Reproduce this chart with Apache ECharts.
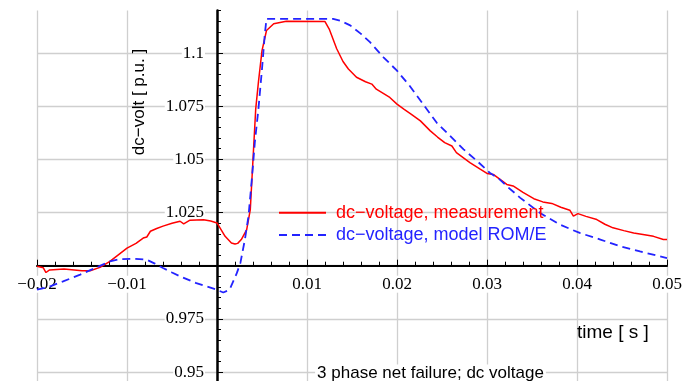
<!DOCTYPE html>
<html>
<head>
<meta charset="utf-8">
<script src="https://cdn.jsdelivr.net/npm/echarts@6.0.0/dist/echarts.min.js"></script>
<style>
  html, body { margin: 0; padding: 0; background: #fff; }
  #chart { width: 697px; height: 381px; }
</style>
</head>
<body>
<div id="chart"></div>
<script>
// measured dc voltage (red, solid)
const tMeas = [
  -0.0200, -0.0193, -0.0190, -0.0186, -0.0170, -0.0168, -0.0150, -0.0141, -0.0130, -0.0119,
  -0.0110, -0.0100, -0.0090, -0.0082, -0.0078, -0.0074, -0.0067, -0.0060, -0.0050, -0.0041,
  -0.0037, -0.0030, -0.0015, -0.0007, 0.0000, 0.0009, 0.0016, 0.0020, 0.0023, 0.0027,
  0.0033, 0.0037, 0.0040, 0.0043, 0.0046, 0.0050, 0.0055, 0.0063, 0.0077, 0.0120,
  0.0125, 0.0133, 0.0140, 0.0146, 0.0155, 0.0165, 0.0172, 0.0177, 0.0192, 0.0200,
  0.0208, 0.0216, 0.0226, 0.0237, 0.0245, 0.0253, 0.0261, 0.0266, 0.0281, 0.0292,
  0.0300, 0.0307, 0.0322, 0.0329, 0.0340, 0.0352, 0.0362, 0.0372, 0.0382, 0.0392,
  0.0396, 0.0401, 0.0410, 0.0422, 0.0431, 0.0440, 0.0452, 0.0463, 0.0475, 0.0485,
  0.0496, 0.0500
];
const vMeas = [
  0.9997, 0.9990, 0.9968, 0.9980, 0.9984, 0.9976, 0.9976, 0.9976, 0.9992, 1.0020,
  1.0050, 1.0083, 1.0105, 1.0130, 1.0135, 1.0162, 1.0175, 1.0186, 1.0200, 1.0209,
  1.0197, 1.0214, 1.0216, 1.0210, 1.0201, 1.0138, 1.0107, 1.0102, 1.0105, 1.0123,
  1.0170, 1.0264, 1.0500, 1.0736, 1.0862, 1.1011, 1.1106, 1.1138, 1.1149, 1.1148,
  1.1110, 1.1020, 1.0960, 1.0925, 1.0886, 1.0865, 1.0854, 1.0830, 1.0791, 1.0760,
  1.0735, 1.0712, 1.0681, 1.0634, 1.0605, 1.0579, 1.0563, 1.0532, 1.0485, 1.0455,
  1.0434, 1.0429, 1.0382, 1.0375, 1.0345, 1.0315, 1.0300, 1.0293, 1.0275, 1.0261,
  1.0233, 1.0245, 1.0232, 1.0217, 1.0195, 1.0178, 1.0165, 1.0154, 1.0146, 1.0138,
  1.0123, 1.0123
];

// model ROM/E (blue, dashed)
const tModel = [
  -0.0200, -0.0186, -0.0171, -0.0152, -0.0134, -0.0119, -0.0108, -0.0093, -0.0078, -0.0069,
  -0.0060, -0.0050, -0.0041, -0.0023, -0.0002, 0.0007, 0.0014, 0.0022, 0.0026, 0.0031,
  0.0035, 0.0039, 0.0042, 0.0046, 0.0050, 0.0053, 0.0055, 0.0129, 0.0137, 0.0148,
  0.0160, 0.0170, 0.0185, 0.0200, 0.0214, 0.0229, 0.0244, 0.0259, 0.0274, 0.0289,
  0.0303, 0.0314, 0.0322, 0.0337, 0.0359, 0.0381, 0.0403, 0.0426, 0.0448, 0.0470,
  0.0492, 0.0500
];
const vModel = [
  0.9887, 0.9902, 0.9926, 0.9958, 0.9992, 1.0020, 1.0031, 1.0033, 1.0028, 1.0010,
  0.9989, 0.9968, 0.9950, 0.9918, 0.9890, 0.9874, 0.9887, 0.9965, 1.0013, 1.0123,
  1.0233, 1.0421, 1.0579, 1.0736, 1.0925, 1.1083, 1.1161, 1.1161, 1.1152, 1.1130,
  1.1090, 1.1051, 1.0980, 1.0917, 1.0846, 1.0760, 1.0673, 1.0610, 1.0547, 1.0492,
  1.0437, 1.0406, 1.0374, 1.0319, 1.0248, 1.0193, 1.0154, 1.0123, 1.0091, 1.0067,
  1.0044, 1.0036
];

const nameMeas = 'dc\u2212voltage, measurement';
const nameModel = 'dc\u2212voltage, model ROM/E';
const RED = '#ff0000';
const BLUE = '#2323ff';
const SERIF = '"Liberation Serif", "Times New Roman", serif';
const SANS = '"Liberation Sans", Arial, sans-serif';

function pairs(xs, ys) {
  return xs.map((x, i) => [x, ys[i]]);
}

// tick labels: no label at the crossing point, real minus sign
function fmtX(v) {
  const r = Math.round(v * 1000) / 1000;
  if (r === 0) return '';
  return (r < 0 ? '\u2212' : '') + String(Math.abs(r));
}

function fmtY(v) {
  const k = Math.round(v / 0.025);
  if (Math.abs(v - k * 0.025) > 1e-6 || Math.abs(v - 1) < 1e-9) return '';
  return String(Math.round(v * 1000) / 1000);
}

const chart = echarts.init(document.getElementById('chart'), null, { renderer: 'canvas' });

const option = {
  animation: false,
  backgroundColor: '#fff',
  grid: { left: 37, right: 30, top: 10.5, bottom: -44.2, outerBoundsMode: 'none' },
  xAxis: [{
    type: 'value',
    min: -0.02,
    max: 0.05,
    interval: 0.01,
    position: 'bottom',
    offset: -159.5,
    axisLine: { onZero: false, lineStyle: { color: '#000', width: 2 } },
    axisTick: { inside: true, length: 6, lineStyle: { color: '#000', width: 1 } },
    minorTick: { show: true, splitNumber: 5, length: 4, lineStyle: { color: '#000', width: 1 } },
    axisLabel: {
      margin: 10, formatter: fmtX, color: '#000', fontFamily: SERIF, fontSize: 17,
      backgroundColor: '#fff', padding: [0, 1]
    },
    splitLine: { show: true, lineStyle: { color: '#cfcfcf', width: 1.3 } }
  }],
  yAxis: [{
    type: 'value',
    min: 0.925,
    max: 1.12,
    interval: 0.025,
    position: 'left',
    offset: -180,
    axisLine: { onZero: false, lineStyle: { color: '#000', width: 2.5 } },
    axisTick: { inside: true, length: 6, lineStyle: { color: '#000', width: 1 } },
    axisLabel: {
      margin: 12, formatter: fmtY, showMaxLabel: false, color: '#000', fontFamily: SERIF, fontSize: 17,
      backgroundColor: '#fff', padding: [0, 1]
    },
    splitLine: { show: true, showMaxLine: false, lineStyle: { color: '#cfcfcf', width: 1.3 } }
  }, {
    // minor ticks every 0.005 along the vertical axis
    type: 'value',
    min: 0.925,
    max: 1.12,
    interval: 0.005,
    position: 'left',
    offset: -180,
    axisLine: { show: false, onZero: false },
    axisTick: { inside: true, length: 4, lineStyle: { color: '#000', width: 1 } },
    axisLabel: { show: false },
    splitLine: { show: false }
  }],
  legend: {
    orient: 'vertical',
    left: 278,
    top: 203.7,
    padding: 0,
    itemWidth: 47,
    itemHeight: 14,
    itemGap: 4.3,
    itemStyle: { opacity: 0 },
    textStyle: { fontFamily: SANS, fontSize: 18, lineHeight: 18, padding: [0, 0, 0, 5] },
    data: [
      { name: nameMeas, textStyle: { color: RED } },
      { name: nameModel, textStyle: { color: BLUE } }
    ]
  },
  graphic: [
    {
      type: 'text', x: 139, y: 102, rotation: Math.PI / 2, z: 100,
      style: { text: 'dc\u2212volt [ p.u. ]', font: '17px ' + SANS, fill: '#000',
               align: 'center', verticalAlign: 'middle', textAlign: 'center', textVerticalAlign: 'middle' }
    },
    {
      type: 'text', x: 577, y: 333, z: 100,
      style: { text: 'time [ s ]', font: '19px ' + SANS, fill: '#000',
               align: 'left', verticalAlign: 'middle', textAlign: 'left', textVerticalAlign: 'middle' }
    },
    {
      type: 'text', x: 430.5, y: 373, z: 100,
      style: { text: '3 phase net failure; dc voltage', font: '17px ' + SANS, fill: '#000',
               backgroundColor: '#fff', padding: [0, 2],
               align: 'center', verticalAlign: 'middle', textAlign: 'center', textVerticalAlign: 'middle' }
    }
  ],
  series: [
    {
      name: nameMeas,
      type: 'line',
      xAxisIndex: 0,
      yAxisIndex: 0,
      symbol: 'none',
      data: pairs(tMeas, vMeas),
      lineStyle: { color: RED, width: 1.5 },
      itemStyle: { color: RED }
    },
    {
      name: nameModel,
      type: 'line',
      xAxisIndex: 0,
      yAxisIndex: 0,
      symbol: 'none',
      data: pairs(tModel, vModel),
      lineStyle: { color: BLUE, width: 1.8, type: [8, 5] },
      itemStyle: { color: BLUE }
    }
  ]
};

chart.setOption(option);
</script>
</body>
</html>
